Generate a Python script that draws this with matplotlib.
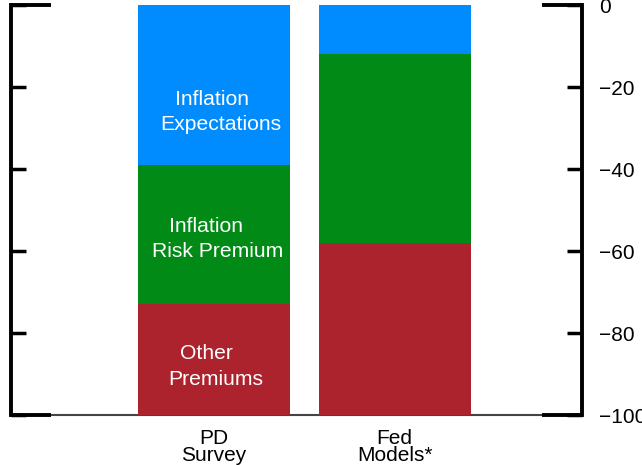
import numpy as np
import matplotlib.pyplot as plt

plt.rcParams['font.family'] = ['Liberation Sans', 'DejaVu Sans']

# data (basis points, stacked downward from 0)
categories = ["PD\nSurvey", "Fed\nModels*"]
inflation_expectations = [-39, -12]
inflation_risk_premium = [-34, -46]
other_premiums = [-27, -42]
segment_labels = ["Inflation   \nExpectations", "Inflation    \nRisk Premium", "Other   \nPremiums"]
colors = ["#008CFF", "#028A16", "#AD232D"]
y_ticks = [0, -20, -40, -60, -80, -100]


def main():
    fig = plt.figure(figsize=(6.42, 4.65), dpi=100)
    ax = fig.add_axes([0.0171, 0.1075, 0.8894, 0.8817])

    x = np.arange(len(categories))
    width = 0.84
    series = [inflation_expectations, inflation_risk_premium, other_premiums]
    bottom = np.zeros(len(categories))
    for vals, col in zip(series, colors):
        vals = np.array(vals, dtype=float)
        ax.bar(x, vals, width=width, bottom=bottom, color=col, linewidth=0, zorder=2)
        bottom = bottom + vals

    # labels inside the PD Survey bar
    b = 0.0
    dxs = [0.039, 0.022, 0.011]
    dys = [-6.6, -1.0, -1.7]
    for vals, lab, dx, dy in zip(series, segment_labels, dxs, dys):
        mid = b + vals[0] / 2
        ax.text(x[0] + dx, mid + dy, lab, color="white", ha="center", va="center",
                fontsize=15.2, linespacing=1.42, zorder=3)
        b += vals[0]

    ax.set_xlim(-1.12, 2.035)
    ax.set_ylim(-100, 0)
    ax.set_xticks(x)
    ax.set_xticklabels(categories, fontsize=15, linespacing=0.85)
    ax.set_yticks(y_ticks)
    ax.set_yticklabels([f"\u2212{abs(t)}" if t < 0 else "0" for t in y_ticks])

    ax.tick_params(axis="x", length=0, pad=10)
    ax.tick_params(axis="y", direction="in", left=True, right=True,
                   labelleft=False, labelright=True, length=11, width=2.5,
                   labelsize=15, pad=12)

    for s in ["left", "right"]:
        ax.spines[s].set_linewidth(2.8)
    ax.spines["top"].set_visible(False)
    ax.spines["bottom"].set_linewidth(1.5)
    ax.spines["bottom"].set_color("#444444")
    ax.spines["bottom"].set_zorder(1)

    # long stubs at 0 and -100 on both sides
    tr = ax.get_yaxis_transform()
    for yy in [0, -100]:
        ax.plot([0, 0.07], [yy, yy], color="black", lw=2.8, transform=tr,
                clip_on=False, solid_capstyle="butt", zorder=4)
        ax.plot([0.93, 1.0], [yy, yy], color="black", lw=2.8, transform=tr,
                clip_on=False, solid_capstyle="butt", zorder=4)

    fig.savefig("out.png", dpi=100)


if __name__ == "__main__":
    main()
